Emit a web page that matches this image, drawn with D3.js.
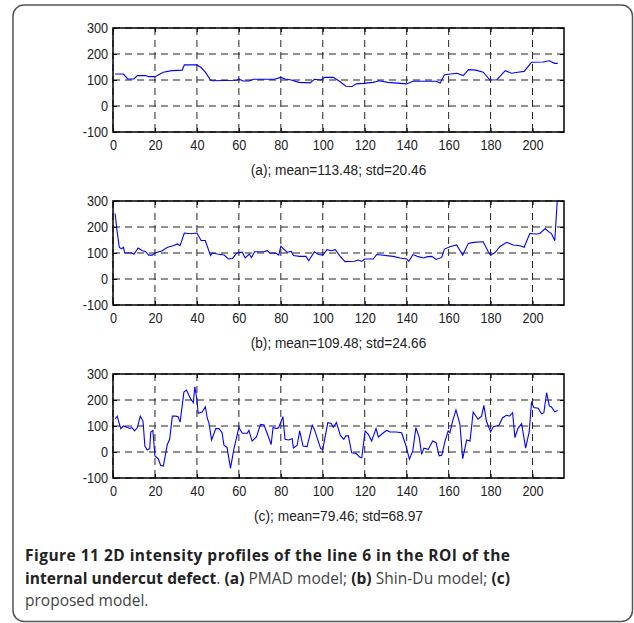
<!DOCTYPE html>
<html>
<head>
<meta charset="utf-8">
<style>
body { margin: 0; background: #fff; }
.tick text, .sub { font-family: "Liberation Sans", Arial, sans-serif; font-size: 15.5px; fill: #222; }
.cap { font-family: "Open Sans", "Noto Sans", sans-serif; font-size: 15.5px; fill: #444; }
.cap .b { font-weight: bold; fill: #222; }
</style>
</head>
<body>
<script src="https://d3js.org/d3.v7.min.js"></script>
<script>
const W = 634, H = 623;

// intensity profiles, [pixel index, intensity]
const profileA = [[1,123],[5,123],[7,104],[10,104],[11.6,117],[15.5,117],[17,113],[20,113],[24,130],[28,136],[33,138],[34,158],[40,158],[42,148],[44,130],[46.5,100],[47.3,97],[59,99],[60,104],[62,96],[65,96],[67,103],[77,103],[80,110],[82,104],[85,100],[88.6,91],[94,89],[96,103],[99,100],[101,110],[105,110],[108,95],[111,76],[114,75],[116,85],[119.4,87],[124,91],[127,97],[131,91],[137,87],[140,85],[143,95],[154,95],[156,88],[158,120],[164,126],[167,117],[169.5,140],[173,138],[176.5,130],[179.7,100],[183,101],[187,136],[190,126],[193,130],[196,133],[199.5,168],[205,169],[208,174],[210.5,164],[212,164]];

const profileB = [[1,252],[2,180],[3,122],[4,116],[5,122],[5.6,100],[9,100],[10,95],[12,119],[14,109],[15.5,106],[17,92],[18.7,92],[20,100],[23.5,109],[26,122],[29,129],[30.6,135],[32,129],[34,177],[37,174],[40,177],[42,148],[44,148],[46.5,90],[47.3,100],[49.7,96],[53,92],[55,77],[57,79],[59,100],[61.6,103],[63,81],[65,96],[66,82],[67.5,105],[72,105],[73.5,109],[75,99],[77.5,100],[79,92],[80,126],[83,103],[85,106],[86,90],[89,87],[92,87],[93.3,70],[96,105],[98,94],[100,92],[102,113],[104,109],[106,113],[108,90],[110.6,67],[115,68],[117,73],[118.6,68],[120,77],[124,77],[125.7,94],[133.6,87],[136.8,81],[140,77],[141,68],[143,94],[145.5,86],[148,81],[150,86],[152,87],[154,75],[156.7,83],[158,115],[160.6,124],[163.8,131],[166.7,92],[169.4,137],[171.7,141],[176.5,143],[179,103],[180,92],[182,101],[184.4,124],[187.6,141],[190.8,131],[194,128],[196,122],[198.7,175],[202,173],[203.5,175],[206,194],[207.5,183],[209,175],[210.6,147],[212,330]];

const profileC = [[1.1,128],[2,138],[3.7,90],[5,100],[6.8,94],[8,91],[9,94],[10.3,81],[11.6,94],[13,138],[14.3,119],[15.2,23],[16.3,8],[17.5,13],[18,77],[19,83],[20,-15],[21.6,-26],[22.7,-51],[24,-54],[25.9,29],[27,49],[28.3,138],[30,138],[31,136],[32,115],[33.8,231],[35,238],[37,205],[38.3,190],[39,251],[40,203],[40.6,149],[42.5,154],[44,174],[45,128],[45.7,113],[47,46],[49,90],[50.5,90],[52,74],[52.9,26],[54.4,17],[56,-63],[57.6,10],[60,94],[61.6,72],[64,72],[64.8,83],[66.3,42],[68.4,58],[70.3,106],[72,104],[73.5,71],[75.4,29],[76.3,94],[78,90],[79,94],[81,136],[82,49],[83.8,46],[85.4,51],[86,15],[87.8,26],[89,81],[90.6,23],[92.5,21],[95,103],[96,87],[99,13],[100,10],[102.4,113],[104,110],[105,95],[106.5,113],[108.4,64],[110,49],[111,62],[112.2,62],[113.8,-3],[116,-6],[117.5,-19],[118.6,-22],[120.2,81],[121.7,68],[123.3,42],[125.4,90],[126.5,58],[128.9,74],[130.5,83],[132,77],[135,77],[137.6,74],[139.7,23],[141.3,-28],[142.9,4],[144.4,94],[146,55],[147.1,-9],[148.2,15],[150.3,10],[152.4,42],[154,36],[155.5,-15],[156.7,-13],[158.3,42],[159.8,81],[160.6,74],[161.9,119],[163.5,162],[165.4,106],[166.7,-26],[168.6,46],[170.2,42],[171.7,154],[174,126],[175.7,138],[176.8,179],[178,119],[180,77],[181.3,97],[184,103],[185.7,132],[187.6,141],[189,138],[190.5,151],[191.6,55],[193,90],[194.8,109],[196.7,15],[198.4,77],[199.5,190],[200.6,171],[202.7,168],[204.3,147],[205.4,151],[206.7,228],[208,177],[209,173],[210.6,155],[212,160]];

const subtitles = ["(a); mean=113.48; std=20.46", "(b); mean=109.48; std=24.66", "(c); mean=79.46; std=68.97"];
const xTicks = [0, 20, 40, 60, 80, 100, 120, 140, 160, 180, 200];
const yTicks = [-100, 0, 100, 200, 300];
const xDomain = [0, 215];
const yDomain = [-100, 300];

const svg = d3.select("body").append("svg")
  .attr("width", W)
  .attr("height", H);

svg.append("rect")
  .attr("x", 13).attr("y", 5)
  .attr("width", 619.5).attr("height", 616.5)
  .attr("rx", 11)
  .attr("fill", "none")
  .attr("stroke", "#555")
  .attr("stroke-width", 1.5);

const x = d3.scaleLinear().domain(xDomain).range([113, 564]);
const ph = 104;
const plain = d => String(d);   // hyphen minus like the original

function panel(data, label, top, idx) {
  const y = d3.scaleLinear().domain(yDomain).range([top + ph, top]);
  const g = svg.append("g");

  // dashed grid
  g.selectAll(".gx").data(xTicks).enter().append("line")
    .attr("x1", d => x(d)).attr("x2", d => x(d))
    .attr("y1", top).attr("y2", top + ph)
    .attr("stroke", "#222").attr("stroke-width", 1)
    .attr("stroke-dasharray", "7,5");
  g.selectAll(".gy").data(yTicks).enter().append("line")
    .attr("x1", x.range()[0]).attr("x2", x.range()[1])
    .attr("y1", d => y(d)).attr("y2", d => y(d))
    .attr("stroke", "#222").attr("stroke-width", 1)
    .attr("stroke-dasharray", "7,5");

  svg.append("clipPath").attr("id", "clip" + idx)
    .append("rect")
    .attr("x", x.range()[0]).attr("y", top)
    .attr("width", x.range()[1] - x.range()[0]).attr("height", ph);

  const line = d3.line().x(d => x(d[0])).y(d => y(d[1]));
  g.append("path")
    .datum(data)
    .attr("clip-path", `url(#clip${idx})`)
    .attr("d", line)
    .attr("fill", "none")
    .attr("stroke", "#0000ff")
    .attr("stroke-width", 1.1);

  const ax = (a) => a.selectAll(".domain").remove();
  g.append("g").attr("transform", `translate(${x.range()[0]},0)`)
    .call(d3.axisLeft(y).tickValues(yTicks).tickFormat(plain).tickSize(-4).tickPadding(6))
    .call(ax);
  g.append("g").attr("transform", `translate(${x.range()[1]},0)`)
    .call(d3.axisRight(y).tickValues(yTicks).tickSize(-4).tickFormat(""))
    .call(ax);
  g.append("g").attr("transform", `translate(0,${top + ph})`)
    .call(d3.axisBottom(x).tickValues(xTicks).tickFormat(plain).tickSize(-4).tickPadding(7))
    .call(ax);
  g.append("g").attr("transform", `translate(0,${top})`)
    .call(d3.axisTop(x).tickValues(xTicks).tickSize(-4).tickFormat(""))
    .call(ax);
  g.selectAll(".tick line").attr("stroke", "#000");
  g.selectAll(".tick text").attr("fill", "#222").attr("transform", "scale(0.82,1)");

  g.append("rect")
    .attr("x", x.range()[0]).attr("y", top)
    .attr("width", x.range()[1] - x.range()[0]).attr("height", ph)
    .attr("fill", "none").attr("stroke", "#000").attr("stroke-width", 1.5);

  g.append("text").attr("class", "sub")
    .attr("x", (x.range()[0] + x.range()[1]) / 2)
    .attr("y", top + ph + 43)
    .attr("text-anchor", "middle")
    .attr("textLength", label.length * 6.5)
    .attr("lengthAdjust", "spacingAndGlyphs")
    .text(label);
}

panel(profileA, subtitles[0], 28, 0);
panel(profileB, subtitles[1], 201, 1);
panel(profileC, subtitles[2], 374, 2);

// figure caption
const capLines = [
  [["Figure 11 2D intensity profiles of the line 6 in the ROI of the", true]],
  [["internal undercut defect", true], [". ", false], ["(a)", true], [" PMAD model; ", false], ["(b)", true], [" Shin-Du model; ", false], ["(c)", true]],
  [["proposed model.", false]]
];
capLines.forEach((parts, i) => {
  const t = svg.append("text").attr("class", "cap")
    .attr("x", 25).attr("y", 561 + i * 22.5);
  if (i < 2) t.attr("textLength", 485).attr("lengthAdjust", "spacing");
  parts.forEach(p => {
    t.append("tspan").attr("class", p[1] ? "b" : null).text(p[0]);
  });
});
</script>
</body>
</html>
